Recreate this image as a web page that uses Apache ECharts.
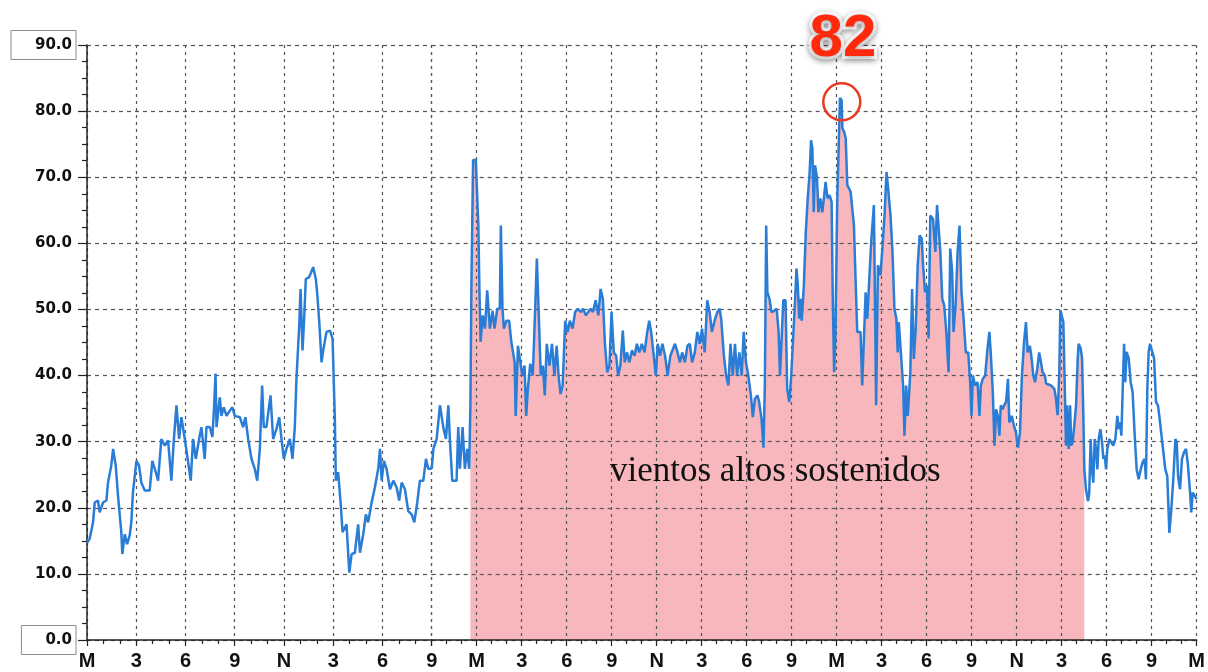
<!DOCTYPE html>
<html>
<head>
<meta charset="utf-8">
<style>
  html, body { margin: 0; padding: 0; background: #fff; }
  #chart { width: 1208px; height: 672px; }
</style>
<script src="https://cdn.jsdelivr.net/npm/echarts@6/dist/echarts.min.js"></script>
</head>
<body>
<div id="chart"></div>
<script>
// horas desde la medianoche (0 a 72) y velocidad del viento
var hours = [
  0, 0.16, 0.37, 0.47, 0.67, 0.77, 0.98, 1.18, 1.28, 1.48, 1.59, 1.75, 1.89, 2.09, 2.15, 2.30, 2.44, 2.60, 2.70, 2.80,
  3.01, 3.17, 3.31, 3.52, 3.82, 3.98, 4.13, 4.33, 4.53, 4.74, 4.94, 5.14, 5.28, 5.45, 5.61, 5.75, 5.96,
  6.16, 6.32, 6.46, 6.63, 6.83, 6.97, 7.17, 7.28, 7.48, 7.64, 7.74, 7.83, 7.89, 8.09, 8.19, 8.33, 8.50, 8.70, 8.86,
  9.00, 9.31, 9.51, 9.65, 9.82, 10.02, 10.22, 10.37, 10.53, 10.67, 10.77, 10.93, 11.18, 11.34, 11.54, 11.71, 11.85, 11.99,
  12.15, 12.36, 12.52, 12.66, 12.76, 12.93, 13.01, 13.13, 13.23, 13.33, 13.54, 13.78, 13.94, 14.02, 14.15, 14.29, 14.39, 14.59, 14.80, 14.96,
  15.10, 15.16, 15.30, 15.45, 15.57, 15.81, 15.98, 16.12, 16.32, 16.52, 16.63, 16.83, 16.99, 17.13, 17.34, 17.54, 17.74, 17.85, 17.95,
  18.09, 18.25, 18.46, 18.66, 18.86, 19.02, 19.17, 19.37, 19.57, 19.78, 19.94, 20.12, 20.28, 20.49, 20.65, 20.79, 21.0,
  21.11, 21.33, 21.55, 21.77, 21.95, 22.11, 22.21, 22.37, 22.66, 22.77, 22.88, 23.06, 23.21, 23.37, 23.50, 23.58, 23.65, 23.76, 23.94,
  24.11, 24.18, 24.26, 24.40, 24.55, 24.70, 24.88, 25.06, 25.19, 25.37, 25.54, 25.61, 25.72, 25.81, 25.98, 26.16, 26.31, 26.53, 26.60, 26.75, 26.91,
  27.04, 27.19, 27.30, 27.41, 27.57, 27.74, 27.92, 28.01, 28.14, 28.27, 28.41, 28.54, 28.67, 28.85, 29.02, 29.18, 29.33, 29.46, 29.59, 29.73, 29.90,
  30.06, 30.21, 30.39, 30.56, 30.74, 30.94, 31.09, 31.27, 31.44, 31.60, 31.75, 31.93, 32.11, 32.26, 32.41, 32.55, 32.70, 32.85, 32.99,
  33.14, 33.30, 33.43, 33.58, 33.74, 33.87, 34.02, 34.18, 34.35, 34.53, 34.68, 34.84, 35.01, 35.19, 35.37, 35.50, 35.63, 35.78, 35.94,
  36.07, 36.22, 36.38, 36.56, 36.73, 36.91, 37.04, 37.22, 37.39, 37.55, 37.70, 37.88, 38.05, 38.21, 38.36, 38.54, 38.71, 38.87,
  39.02, 39.20, 39.37, 39.53, 39.68, 39.86, 40.04, 40.19, 40.30, 40.48, 40.63, 40.78, 40.92, 41.07, 41.22, 41.36, 41.51, 41.67, 41.80, 41.95,
  42.11, 42.28, 42.41, 42.55, 42.72, 42.83, 42.99, 43.12, 43.21, 43.30, 43.38, 43.52, 43.65, 43.82, 44.00, 44.13, 44.22, 44.31, 44.44, 44.59, 44.70, 44.84, 44.97,
  45.10, 45.23, 45.32, 45.41, 45.50, 45.59, 45.67, 45.81, 45.94, 46.07, 46.20, 46.29, 46.38, 46.47, 46.56, 46.69, 46.78, 46.91, 47.04, 47.17, 47.26, 47.39, 47.52, 47.66, 47.74, 47.83, 47.92,
  48.04, 48.22, 48.33, 48.38, 48.49, 48.60, 48.71, 48.93, 49.15, 49.26, 49.37, 49.59, 49.70, 49.93, 50.04, 50.15, 50.30, 50.48, 50.63, 50.75, 50.92,
  51.06, 51.19, 51.32, 51.41, 51.59, 51.72, 51.85, 51.98, 52.07, 52.14, 52.25, 52.43, 52.52, 52.63, 52.74, 52.91, 53.03, 53.14, 53.27, 53.40, 53.53, 53.67, 53.76, 53.89,
  54.02, 54.13, 54.24, 54.42, 54.58, 54.69, 54.82, 54.91, 55.04, 55.17, 55.31, 55.46, 55.57, 55.70, 55.79, 55.93, 56.06, 56.19, 56.32, 56.46, 56.61, 56.77, 56.90, 56.99,
  57.08, 57.23, 57.39, 57.52, 57.61, 57.74, 57.90, 58.05, 58.18, 58.27, 58.41, 58.52, 58.63, 58.74, 58.85, 58.94, 59.07, 59.16, 59.29, 59.42, 59.51, 59.67, 59.82, 59.95,
  60.09, 60.22, 60.35, 60.49, 60.62, 60.73, 60.88, 61.00, 61.11, 61.22, 61.37, 61.50, 61.62, 61.73, 61.88,
  61.96, 62.29, 62.51, 62.62, 62.73, 62.84, 62.91, 63.02, 63.11, 63.20, 63.29, 63.36, 63.47, 63.56, 63.64, 63.73, 63.84, 63.96,
  64.07, 64.13, 64.27, 64.36, 64.44, 64.51, 64.62, 64.76, 64.84, 64.93, 65.02, 65.11, 65.20, 65.29, 65.38, 65.47, 65.58, 65.69, 65.78, 65.87, 65.96,
  66.04, 66.18, 66.31, 66.44, 66.58, 66.71, 66.80, 66.89, 66.98, 67.07, 67.16, 67.24, 67.33, 67.47, 67.60, 67.73, 67.87,
  68.00, 68.13, 68.27, 68.40, 68.53, 68.62, 68.71, 68.80, 68.89, 69.02, 69.16, 69.29, 69.42, 69.51, 69.64, 69.78, 69.91,
  70.04, 70.18, 70.31, 70.44, 70.58, 70.67, 70.76, 70.89, 71.02, 71.16, 71.29, 71.42, 71.56, 71.64, 71.73, 71.87, 72.00
];
var speed = [
  14.7, 15.3, 17.8, 20.8, 21.1, 19.3, 20.8, 21.1, 23.8, 26.4, 28.9, 26.4, 21.8, 16.3, 13.0, 16.0, 14.5, 15.8, 17.8, 22.3,
  27.1, 26.4, 23.8, 22.6, 22.6, 27.1, 25.9, 24.1, 30.4, 29.4, 30.2, 24.1, 29.9, 35.5, 30.4, 33.7, 30.4,
  26.9, 24.1, 30.4, 27.4, 30.4, 32.2, 27.4, 32.2, 32.2, 30.7, 35.2, 40.3, 32.2, 36.7, 33.9, 35.2, 33.9, 34.7, 35.2,
  33.9, 33.7, 32.2, 33.7, 30.4, 27.4, 25.9, 24.1, 28.9, 38.5, 32.2, 32.2, 37.0, 30.4, 31.9, 33.7, 30.4, 27.4,
  28.9, 30.4, 27.4, 32.2, 39.5, 47.6, 53.1, 43.8, 48.6, 54.6, 54.9, 56.4, 54.6, 52.6, 48.1, 42.0, 43.8, 46.6, 46.8, 45.6,
  33.4, 24.1, 25.4, 20.8, 16.3, 17.5, 10.2, 13.0, 13.2, 17.5, 13.2, 16.0, 19.0, 17.8, 20.8, 23.1, 25.9, 28.9, 24.1,
  27.1, 25.9, 22.8, 24.1, 23.1, 21.1, 23.8, 22.8, 19.5, 19.0, 17.8, 20.8, 24.1, 24.1, 27.4, 25.9, 25.9,
  28.9, 30.4, 35.5, 32.2, 30.4, 35.5, 30.4, 24.1, 24.1, 32.2, 25.9, 32.2, 25.9, 28.9, 25.9, 35.5, 54.1, 72.6, 72.6,
  62.7, 53.1, 45.1, 49.1, 47.1, 52.9, 47.1, 49.8, 47.1, 50.1, 50.1, 62.7, 50.1, 47.1, 48.3, 48.3, 45.1, 42.0, 33.9, 44.5, 42.0,
  40.0, 41.5, 33.9, 38.0, 41.8, 40.0, 51.6, 57.7, 49.1, 40.0, 41.5, 37.0, 44.8, 41.5, 44.8, 40.0, 44.5, 40.0, 37.2, 38.5, 48.3,
  46.6, 48.3, 47.1, 49.6, 50.1, 49.6, 50.1, 49.1, 49.6, 50.1, 49.6, 51.4, 49.1, 53.1, 51.6, 44.8, 40.5, 41.5, 49.6,
  43.5, 43.0, 40.0, 41.5, 46.8, 42.0, 43.5, 42.0, 43.8, 43.0, 44.8, 43.5, 44.8, 43.5, 46.6, 48.3, 46.6, 43.5, 40.0,
  44.8, 43.0, 44.8, 43.0, 40.0, 43.0, 43.0, 44.8, 43.5, 42.0, 43.5, 42.0, 44.5, 44.8, 42.0, 43.5, 46.6, 44.8,
  47.1, 43.5, 51.4, 49.6, 46.6, 48.3, 49.6, 50.1, 48.6, 43.0, 40.0, 38.5, 44.8, 40.0, 44.8, 40.0, 43.5, 40.0, 46.6, 42.0,
  40.0, 37.0, 33.7, 36.5, 37.0, 36.0, 33.4, 29.1, 38.5, 62.7, 52.6, 51.6, 49.6, 49.8, 50.1, 46.6, 40.0, 44.5, 51.4, 51.4, 38.0, 36.0, 40.0,
  40.0, 51.6, 56.2, 53.6, 48.6, 51.6, 48.3, 53.6, 61.7, 66.8, 70.8, 75.6, 74.3, 64.7, 71.8, 69.8, 64.7, 66.8, 64.7, 67.3, 69.3, 66.8, 67.3, 66.3, 51.6, 40.5, 46.6,
  66.8, 82.0, 81.6, 77.4, 76.9, 75.9, 68.8, 67.8, 62.7, 54.6, 46.6, 46.6, 38.5, 52.6, 48.6, 53.6, 60.2, 65.8, 35.5, 56.7, 55.2,
  59.7, 64.2, 70.8, 68.8, 64.2, 58.7, 50.1, 48.6, 43.5, 48.1, 44.5, 38.5, 30.9, 38.5, 33.9, 40.5, 53.1, 42.5, 47.1, 56.7, 61.2, 60.7, 56.7, 52.6,
  53.6, 45.6, 64.2, 63.7, 58.7, 65.8, 65.8, 58.7, 51.6, 50.6, 46.6, 40.5, 59.2, 55.7, 46.6, 50.6, 58.7, 62.7, 52.6, 48.6, 43.5, 43.5, 39.0, 33.9,
  40.0, 38.5, 39.0, 33.9, 38.5, 39.5, 40.0, 44.0, 46.6, 43.5, 37.5, 29.4, 34.9, 33.9, 30.9, 35.5, 34.9, 35.5, 36.0, 39.5, 32.9, 33.9, 32.4, 31.4,
  29.1, 31.4, 40.0, 45.1, 48.1, 43.5, 44.5, 42.5, 40.0, 39.0, 41.0, 43.5, 42.0, 40.5, 40.0,
  38.8, 38.5, 38.0, 36.5, 34.0, 40.5, 49.9, 49.6, 48.1, 39.0, 29.4, 35.5, 28.9, 35.5, 29.4, 29.9, 32.4, 35.5,
  42.6, 44.8, 44.1, 42.6, 34.5, 25.8, 22.8, 21.0, 22.3, 30.4, 25.8, 23.8, 30.4, 28.9, 25.8, 30.4, 31.9, 29.9, 27.4, 27.9, 25.8,
  28.9, 30.4, 29.9, 29.4, 30.4, 33.9, 31.9, 32.9, 30.9, 38.0, 44.8, 39.0, 43.6, 42.6, 39.0, 37.5, 30.9,
  25.8, 24.3, 25.8, 26.9, 27.4, 24.3, 38.0, 43.6, 44.8, 44.6, 42.6, 36.0, 35.5, 33.9, 33.9, 28.4, 25.8,
  24.8, 16.2, 19.8, 24.3, 30.4, 29.9, 24.8, 22.8, 27.4, 28.4, 28.9, 26.4, 22.3, 19.3, 22.3, 21.8, 21.3
];
// tramo sombreado: vientos altos sostenidos
var sustainedFrom = 23.55;
var sustainedTo = 64.52;
var yTicks = [0, 90, 10];   // min, max, paso

var pts = hours.map(function (h, i) { return [h, speed[i]]; });
var firstDay = pts.filter(function (p) { return p[0] <= 21; });
var rest = pts.filter(function (p) { return p[0] >= 21; });
var sustained = pts.filter(function (p) { return p[0] >= sustainedFrom && p[0] <= sustainedTo; });

var peak = pts.reduce(function (a, b) { return b[1] > a[1] ? b : a; });

function hourLabel(h) {
  var m = h % 24;
  if (m === 0) return 'M';
  if (m === 12) return 'N';
  return String(m % 12);
}

var blue = '#2a7dd6';
var grid = '#555';
var axisFont = 'DejaVu Sans';

function xAxisFor(idx, min, max, showMax) {
  return {
    type: 'value', gridIndex: idx, min: min, max: max, interval: 3, z: 1,
    axisLine: { show: true, onZero: false, lineStyle: { color: '#222', width: 1.5 } },
    axisTick: { show: true, length: 6, lineStyle: { color: '#222', width: 1.2 } },
    minorTick: { show: true, splitNumber: 3, length: 4, lineStyle: { color: '#222', width: 1.2 } },
    splitLine: { show: true, lineStyle: { color: grid, width: 1.2, type: [3, 4] } },
    axisLabel: {
      formatter: hourLabel, showMaxLabel: showMax, margin: 11,
      fontFamily: 'Liberation Sans Narrow, Liberation Sans', fontWeight: 'bold', fontSize: 20, color: '#111'
    }
  };
}

function yAxisFor(idx, visible) {
  return {
    type: 'value', gridIndex: idx, min: yTicks[0], max: yTicks[1], interval: yTicks[2], z: 1,
    axisLine: { show: visible, lineStyle: { color: '#222', width: 1.5 } },
    axisTick: { show: visible, length: 9, lineStyle: { color: '#222', width: 1.2 } },
    minorTick: { show: visible, splitNumber: 4, length: 5, lineStyle: { color: '#222', width: 1.2 } },
    splitLine: { show: true, lineStyle: { color: grid, width: 1.2, type: [4, 4] } },
    axisLabel: {
      show: visible, margin: 11,
      formatter: function (v) {
        var t = v.toFixed(1);
        return (v === yTicks[0] || v === yTicks[1]) ? '{box|' + t + '}' : '{n|' + t + '}';
      },
      rich: {
        n: { fontFamily: axisFont, fontWeight: 'bold', fontSize: 15, color: '#111', padding: [0, 4, 0, 0] },
        box: { fontFamily: axisFont, fontWeight: 'bold', fontSize: 15, color: '#111',
               borderColor: '#8c8c8c', borderWidth: 1, padding: [7, 4, 7, 24] }
      }
    }
  };
}

var chart = echarts.init(document.getElementById('chart'));
chart.setOption({
  animation: false,
  backgroundColor: '#fff',
  grid: [
    { left: 87, top: 45, width: 344.7, height: 595 },
    { left: 431.7, top: 45, right: 7.3, height: 595 }
  ],
  xAxis: [xAxisFor(0, 0, 21, false), xAxisFor(1, 21, 72, true)],
  yAxis: [yAxisFor(0, true), yAxisFor(1, false)],
  series: [
    {
      type: 'line', xAxisIndex: 1, yAxisIndex: 1, data: sustained, z: 0,
      showSymbol: false, silent: true,
      lineStyle: { width: 0 },
      areaStyle: { color: '#f7b7bd', opacity: 1 }
    },
    {
      type: 'line', xAxisIndex: 0, yAxisIndex: 0, data: firstDay, z: 3,
      showSymbol: false, lineStyle: { color: blue, width: 2.5 }
    },
    {
      type: 'line', xAxisIndex: 1, yAxisIndex: 1, data: rest, z: 3,
      showSymbol: false, lineStyle: { color: blue, width: 2.5 },
      markPoint: {
        silent: true,
        data: [
          {
            coord: [peak[0] + 0.12, peak[1] - 0.6], symbol: 'circle', symbolSize: 37,
            itemStyle: { color: 'rgba(255,255,255,0)', borderColor: '#ea3a22', borderWidth: 2.5 },
            label: { show: false }
          },
          {
            coord: [peak[0], peak[1]], symbol: 'circle', symbolSize: 1,
            itemStyle: { color: 'rgba(0,0,0,0)' },
            label: {
              show: true, position: 'inside', offset: [3, -58],
              formatter: String(Math.round(peak[1])),
              fontFamily: 'Liberation Sans', fontWeight: 'bold', fontSize: 60, color: '#ff2a0e',
              textBorderColor: '#fff', textBorderWidth: 6,
              textShadowColor: 'rgba(0,0,0,0.35)', textShadowBlur: 6, textShadowOffsetY: 2
            }
          }
        ]
      }
    }
  ],
  graphic: [
    {
      type: 'text', left: 610, top: 454, z: 10,
      style: { text: 'vientos altos sostenidos', font: '35px "Liberation Serif"', fill: '#111' }
    }
  ]
});
</script>
</body>
</html>
